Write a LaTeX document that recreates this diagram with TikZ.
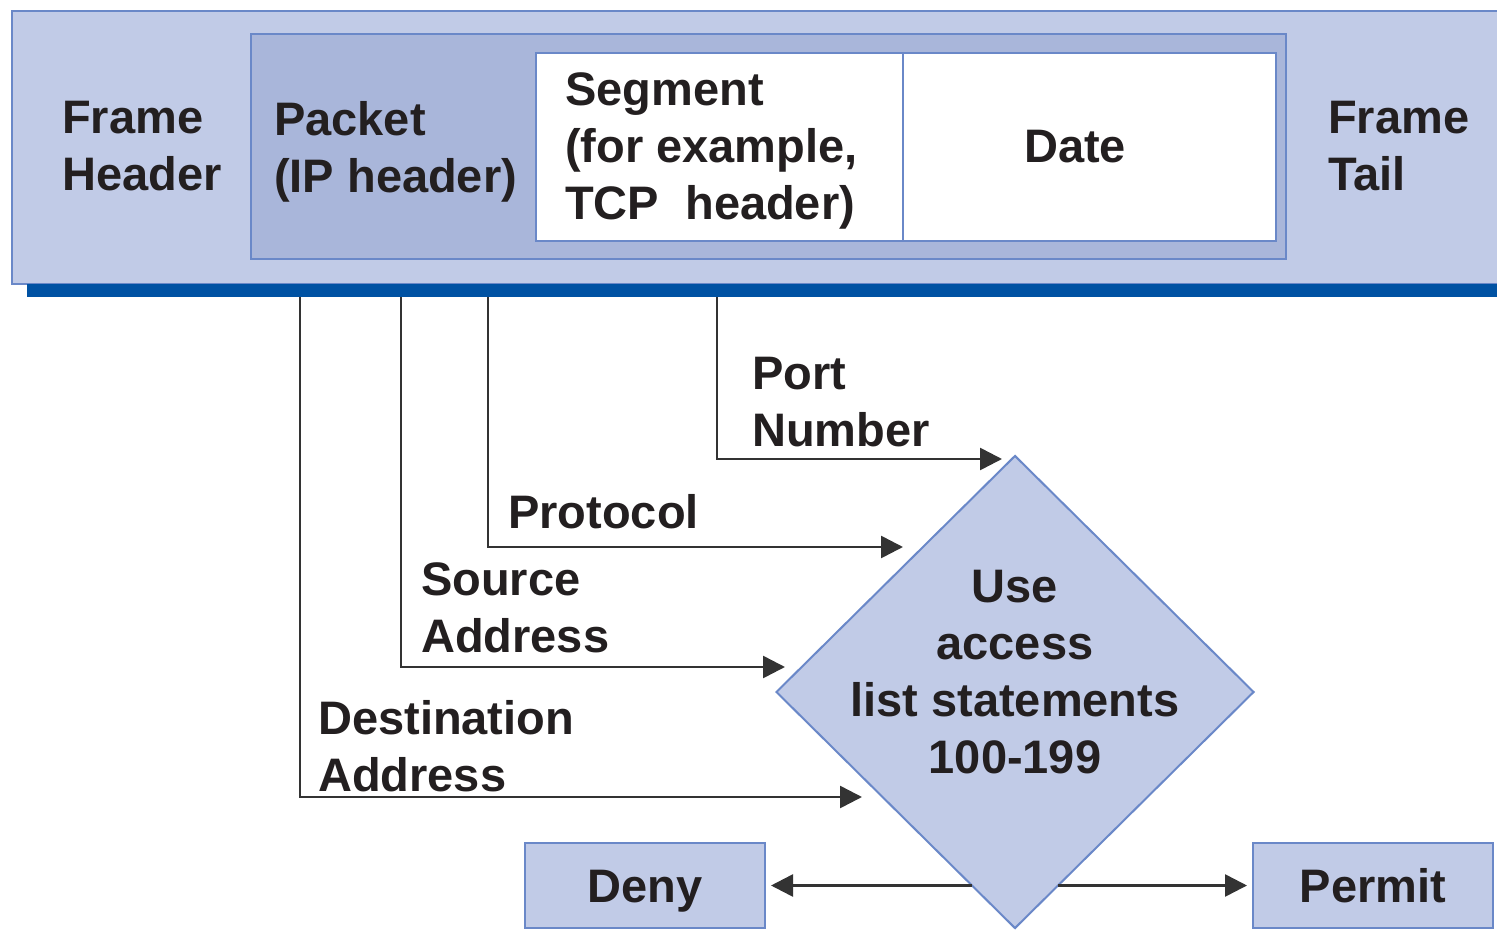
\documentclass[tikz,border=0pt]{standalone}
\usepackage{fontspec}
\setmainfont{Liberation Sans}
\usepackage{tikz}
\usetikzlibrary{shapes.geometric,arrows.meta,calc}
\definecolor{pale}{HTML}{C1CBE7}
\definecolor{deep}{HTML}{A9B6DA}
\definecolor{rim}{HTML}{6A88C8}
\definecolor{navy}{HTML}{0052A3}
\definecolor{ink}{HTML}{231F20}
\definecolor{wire}{HTML}{333333}

\begin{document}
\begin{tikzpicture}[x=1pt, y=-1pt,
  txt/.style={font=\fontsize{47}{57}\selectfont\bfseries, text=ink, inner sep=0pt, align=left},
  box/.style={draw=rim, line width=2pt, fill=pale, inner sep=0pt},
  arr/.style={draw=wire, line width=2.6pt, -{Triangle[length=22pt,width=22pt]}}]
  \useasboundingbox (0,0) rectangle (1497,931);
  % frame with packet and segment
  \node[box, anchor=north west, minimum width=1495pt, minimum height=273pt] (frame) at (11,10) {};
  \fill[navy] (27,284) rectangle (1497,297);
  \node[box, fill=deep, anchor=north west, minimum width=1035pt, minimum height=225pt] (packet) at (250,33) {};
  \node[box, fill=white, anchor=north west, minimum width=740pt, minimum height=188pt] (segment) at (535,52) {};
  \draw[rim, line width=2pt] (segment.north -| 903,0) -- (segment.south -| 903,0);
  \node[txt, anchor=north west] (framehead) at (62,101) {Frame\\Header};
  \node[txt, anchor=north west] (packethead) at (274,101) {Packet\\(IP header)};
  \node[txt, anchor=north west] (seghead) at (565,72) {Segment\\(for example,\\TCP\ \ header)};
  \node[txt, anchor=north] (date) at (1075,130) {Date};
  \node[txt, anchor=north west] (frametail) at (1328,101) {Frame\\Tail};
  % decision
  \node[box, shape=diamond, minimum width=478pt, minimum height=473pt] (acl) at (1015,692) {};
  \node[txt, align=center, anchor=north] (acltext) at (1015,570) {Use\\access\\list statements\\100-199};
  \node[box, txt, draw=rim, line width=2pt, minimum width=240pt, minimum height=85pt, text height=34pt, text depth=0pt] (deny) at (645,885.5) {Deny};
  \node[box, txt, draw=rim, line width=2pt, minimum width=240pt, minimum height=85pt, text height=34pt, text depth=0pt] (permit) at (1373,885.5) {Permit};
  % fields into the decision
  \coordinate (portout) at (717,297);
  \coordinate (portin) at (1002,459);
  \coordinate (protoout) at (488,297);
  \coordinate (protoin) at (903,547);
  \coordinate (srcout) at (401,297);
  \coordinate (srcin) at (785,667);
  \coordinate (dstout) at (300,297);
  \coordinate (dstin) at (862,797);
  \draw[arr] (portout) |- (portin);
  \draw[arr] (protoout) |- (protoin);
  \draw[arr] (srcout) |- (srcin);
  \draw[arr] (dstout) |- (dstin);
  \node[txt, anchor=north west] (portlabel) at (752,357) {Port\\Number};
  \node[txt, anchor=north west] (protolabel) at (508,494) {Protocol};
  \node[txt, anchor=north west] (srclabel) at (421,562) {Source\\Address};
  \node[txt, anchor=north west] (dstlabel) at (318,700) {Destination\\Address};
  % outcomes
  \coordinate (denyfrom) at ($(acl.south)!0.18!(acl.west)$);
  \coordinate (permitfrom) at ($(acl.south)!0.18!(acl.east)$);
  \draw[arr, shorten >=5pt] (denyfrom |- deny.east) -- (deny.east);
  \draw[arr, shorten >=5pt] (permitfrom |- permit.west) -- (permit.west);
\end{tikzpicture}
\end{document}
